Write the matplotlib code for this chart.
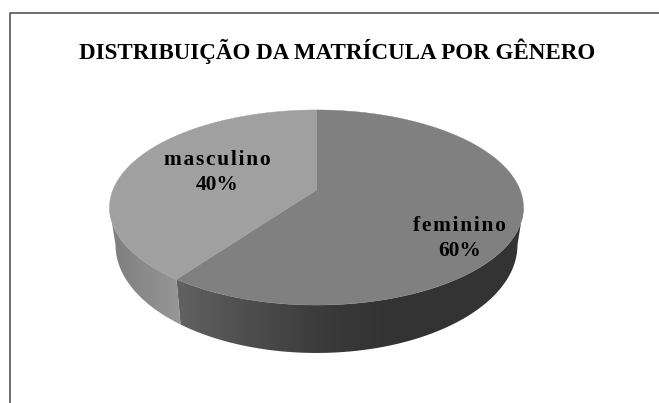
#!/usr/bin/env python3
"""Perspective 3D-look pie: distribuicao da matricula por genero."""
import numpy as np
import matplotlib

matplotlib.use("Agg")
import matplotlib.pyplot as plt
from matplotlib.patches import Polygon
from matplotlib.colors import LinearSegmentedColormap

TITLE = "DISTRIBUIÇÃO DA MATRÍCULA POR GÊNERO"
categories = ["feminino", "masculino"]
shares = [60, 40]
percents = ["60%", "40%"]

# pie geometry in pixels, the perspective comes from K
CX, CY = 316.5, 190.0
A, B, K = 203.6, 94.4, 0.1795
# lower rim is its own ellipse, slightly narrower and rounder than the top
CY_LOW, B_LOW, X_LOW = 225.6, 104.5, 0.971


def rim(theta):
    # theta is clockwise from the top of the pie
    u, v = np.sin(theta), np.cos(theta)
    w = 1 + K * v
    return CX + A * u / w, CY - B * v / w


def rim_low(theta):
    u, v = np.sin(theta), np.cos(theta)
    w = 1 + K * v
    return CX + X_LOW * A * u / w, CY_LOW - B_LOW * v / w


def side_wall(ax, t, xlim, stops):
    x0, y0 = rim(t)
    x1, y1 = rim_low(t)
    xy = np.r_[np.c_[x0, y0], np.c_[x1, y1][::-1]]
    clip = Polygon(xy, closed=True, fc="none", ec="none")
    ax.add_patch(clip)
    cmap = LinearSegmentedColormap.from_list("side", stops)
    im = ax.imshow(np.linspace(0, 1, 256)[None, :], cmap=cmap, vmin=0, vmax=1,
                   extent=(xlim[0], xlim[1], 403, 0), aspect="auto", zorder=2)
    im.set_clip_path(clip)


def main():
    fig = plt.figure(figsize=(6.59, 4.03), dpi=100)
    ax = fig.add_axes([0, 0, 1, 1])

    # chart frame, open to the right and bottom of the image
    ax.plot([9.5, 9.5, 659], [403, 12.5, 12.5], color="#555555", lw=1.2, zorder=1)

    angles = np.cumsum([0] + shares) / sum(shares) * 2 * np.pi
    split = angles[1]

    # visible walls run between the two side extremes of the rim
    right_end = np.arccos(-K)
    left_end = 2 * np.pi - np.arccos(-K)
    t_fem = np.linspace(right_end, split, 200)
    t_mas = np.linspace(split, left_end, 120)
    xs = rim_low(np.array([split]))[0][0]
    xt = rim(np.array([split]))[0][0]
    side_wall(ax, t_fem, (xt, 526), ["#626262", "#4e4e4e", "#3c3c3c", "#333333",
                                     "#333333", "#333333"])
    side_wall(ax, t_mas, (108, xs), ["#7c7c7c", "#868686", "#8e8e8e", "#979797"])

    # top face, one wedge per category
    top_colors = ["#808080", "#a0a0a0"]
    for i, color in enumerate(top_colors):
        t = np.linspace(angles[i], angles[i + 1], 300)
        x, y = rim(t)
        pts = np.r_[[[CX, CY]], np.c_[x, y]]
        ax.add_patch(Polygon(pts, closed=True, fc=color, ec=color, lw=0.3, zorder=3))

    ax.text(337.5, 51, TITLE, ha="center", va="center", family="Liberation Serif",
            weight="bold", fontsize=16.6, color="#000000", zorder=5)

    # labels in the reference are letter-spaced, hair spaces get close to that
    label_pos = [(459.5, 238.5), (217.5, 172.5)]
    for cat, pct, (lx, ly) in zip(categories, percents, label_pos):
        ax.text(lx, ly, "\u200a".join(cat) + "\n" + pct, ha="center", va="center",
                family="Liberation Serif", weight="bold", fontsize=15.4,
                color="#000000", linespacing=1.33, zorder=5)

    ax.set_xlim(0, 659)
    ax.set_ylim(403, 0)
    ax.axis("off")
    fig.savefig("out.png", dpi=100, facecolor="white")
    plt.close(fig)


if __name__ == "__main__":
    main()
